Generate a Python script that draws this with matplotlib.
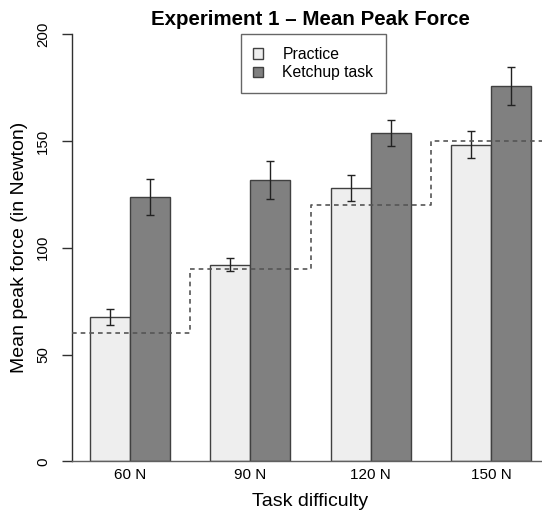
import matplotlib
matplotlib.use('Agg')
import matplotlib.pyplot as plt
import numpy as np

plt.rcParams['font.family'] = ['Liberation Sans', 'DejaVu Sans']

# data
levels = ['60 N', '90 N', '120 N', '150 N']
targets = [60, 90, 120, 150]
practice = [67.8, 92.0, 128.1, 148.3]
practice_err = [3.75, 3.0, 6.1, 6.2]
ketchup = [123.7, 131.7, 153.7, 175.9]
ketchup_err = [8.4, 9.0, 6.05, 9.0]

C_PRAC, C_KETCH, C_EDGE = '#EEEEEE', '#808080', '#404040'

W, H = 542, 517
fig = plt.figure(figsize=(W / 100, H / 100), dpi=100)
# R-like plot region, slightly wider than the figure (image is cropped on the right)
ax = fig.add_axes([72.3 / W, 1 - 461.3 / H, (548.7 - 72.3) / W, (461.3 - 34.3) / H])

# R barplot(beside=TRUE): bars of width 1, one bar of space between groups
x_prac = np.arange(len(levels)) * 3 + 1.5
x_ketch = x_prac + 1
ax.bar(x_prac, practice, width=1, color=C_PRAC, edgecolor=C_EDGE, linewidth=1.0,
       label='Practice', zorder=2)
ax.bar(x_ketch, ketchup, width=1, color=C_KETCH, edgecolor=C_EDGE, linewidth=1.0,
       label='Ketchup task', zorder=2)
ax.errorbar(x_prac, practice, yerr=practice_err, fmt='none', ecolor='#222222',
            elinewidth=1.0, capsize=3, capthick=1.0, zorder=3)
ax.errorbar(x_ketch, ketchup, yerr=ketchup_err, fmt='none', ecolor='#222222',
            elinewidth=1.0, capsize=3, capthick=1.0, zorder=3)

# target force as a step line
edges = [0.56] + list(x_ketch + 1)
edges[-1] = 12.44
step_x = []
step_y = []
for i, t in enumerate(targets):
    step_x += [edges[i], edges[i + 1]]
    step_y += [t, t]
ax.plot(step_x, step_y, color='#555555', linestyle=(0, (2.8, 2.4)), linewidth=1.2,
        zorder=4, clip_on=False)

ax.set_xlim(0.56, 12.44)
ax.set_ylim(0, 200)
for s in ['top', 'right']:
    ax.spines[s].set_visible(False)
ax.spines['left'].set_color('#303030')
ax.spines['bottom'].set_color('#606060')
ax.spines['left'].set_linewidth(1.0)
ax.spines['bottom'].set_linewidth(1.0)

ax.set_yticks([0, 50, 100, 150, 200])
ax.tick_params(axis='y', length=7, width=1, color='#303030', pad=9,
               labelsize=10.8, labelrotation=90)
for lab in ax.get_yticklabels():
    lab.set_va('center')
ax.set_xticks(x_prac + 0.5)
ax.set_xticklabels(levels)
ax.tick_params(axis='x', length=0, pad=5, labelsize=11)

ax.set_title('Experiment 1 \u2013 Mean Peak Force', fontsize=14.8, fontweight='bold', pad=7)
ax.set_xlabel('Task difficulty', fontsize=14)
ax.xaxis.set_label_coords(0.5, -0.075)
ax.xaxis.label.set_va('top')
ax.set_ylabel('Mean peak force (in Newton)', fontsize=14)
ax.yaxis.set_label_coords(-0.093, 0.5)

leg = ax.legend(loc='upper left', bbox_to_anchor=(240.7 / W, 1 - 34.3 / H),
                bbox_transform=fig.transFigure, fontsize=11.3, frameon=True,
                fancybox=False, borderpad=0.8, handlelength=0.65, handleheight=0.65,
                handletextpad=1.2, labelspacing=0.22, borderaxespad=0)
leg.get_frame().set_edgecolor('#404040')
leg.get_frame().set_linewidth(1.0)

fig.savefig('out.png', dpi=100)
